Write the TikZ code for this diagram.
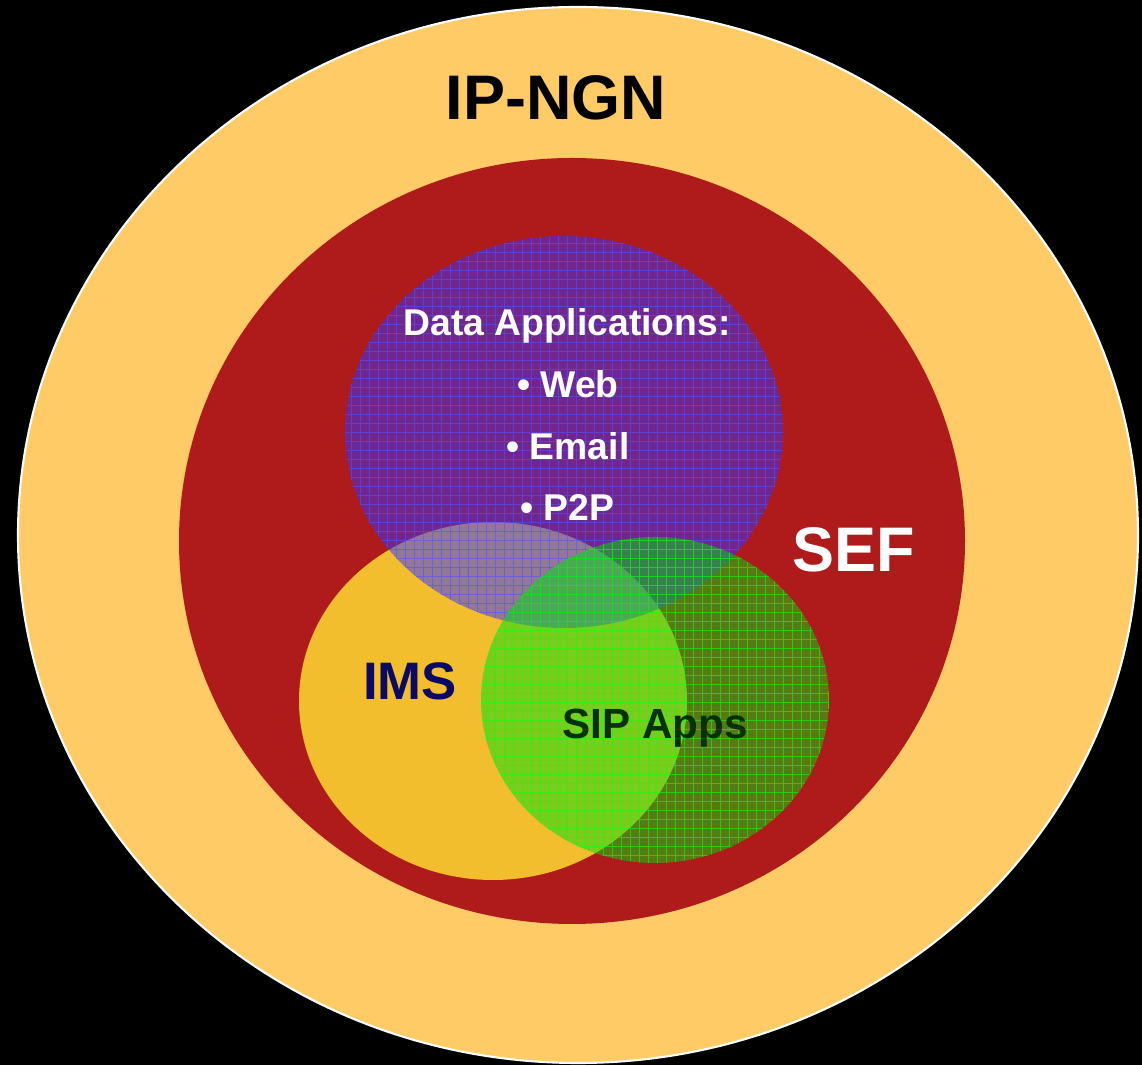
\documentclass[tikz,border=0pt]{standalone}
\usepackage{fontspec}
\setmainfont{Liberation Sans}
\usetikzlibrary{positioning}

\definecolor{ngnfill}{RGB}{254,203,103}
\definecolor{sefred}{RGB}{175,26,26}
\definecolor{imsgold}{RGB}{242,190,46}
\definecolor{databl}{RGB}{51,51,255}
\definecolor{sipgreen}{RGB}{0,220,15}
\definecolor{imsnavy}{RGB}{10,10,100}
\definecolor{sipdark}{RGB}{5,50,5}

\begin{document}
\begin{tikzpicture}[x=0.01cm,y=-0.01cm,
                    every node/.style={font=\bfseries, inner sep=0pt},
                    bigtext/.style={font=\fontsize{17.9}{20}\selectfont\bfseries},
                    datatext/.style={font=\fontsize{10.6}{12}\selectfont\bfseries, text=white},
                    bluegrid/.style={draw=databl!85!white, line width=0.3pt, opacity=0.6},
                    greengrid/.style={draw=green!90!lime, line width=0.3pt, opacity=0.6}]

    \fill[black] (0,0) rectangle (1142,1065);
    \useasboundingbox (0,0) rectangle (1142,1065);

    % rings
    \filldraw[fill=ngnfill, draw=white, line width=0.6pt] (578,535) ellipse [x radius=560, y radius=528];
    \fill[sefred] (572,541) ellipse [x radius=393, y radius=383];
    \fill[imsgold] (493,701) ellipse [x radius=194, y radius=179];

    % data applications
    \fill[databl, opacity=0.5] (564,432) ellipse [x radius=219, y radius=196];
    \begin{scope}
        \clip (564,432) ellipse [x radius=219, y radius=196];
        \draw[bluegrid, step=0.09cm] (340,230) grid (790,635);
    \end{scope}

    % sip apps
    \fill[sipgreen, opacity=0.5] (655,700) ellipse [x radius=174, y radius=163];
    \begin{scope}
        \clip (655,700) ellipse [x radius=174, y radius=163];
        \draw[greengrid, step=0.09cm] (475,530) grid (835,870);
    \end{scope}

    \node[bigtext, anchor=base] (ngn) at (556,120) {IP-NGN};
    \node[bigtext, anchor=base, text=white] (sef) at (854,572) {SEF};
    \node[datatext, anchor=base] (data) at (567,336) {Data Applications:};
    \node[datatext, anchor=base] (web) at (568,398) {\textbullet\ Web};
    \node[datatext, anchor=base] (email) at (568,460) {\textbullet\ Email};
    \node[datatext, anchor=base] (ptp) at (567,521) {\textbullet\ P2P};
    \node[font=\fontsize{15}{17}\selectfont\bfseries, text=imsnavy, anchor=base] (ims) at (410,700) {IMS};
    \node[font=\fontsize{12}{14}\selectfont\bfseries, text=sipdark, anchor=base] (sip) at (655,739) {SIP Apps};
\end{tikzpicture}
\end{document}
